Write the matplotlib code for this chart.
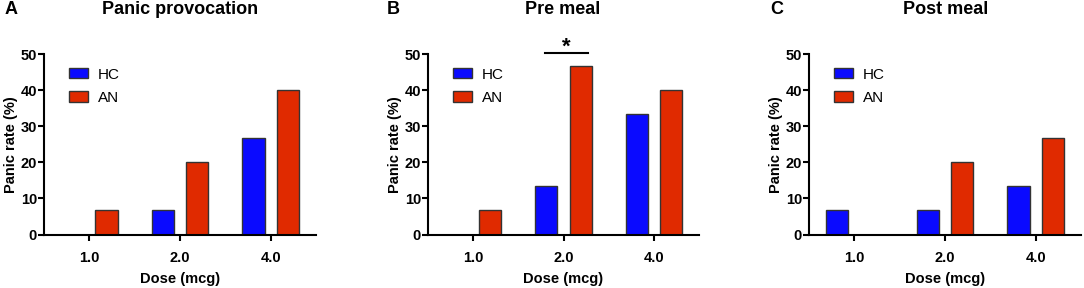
import matplotlib
matplotlib.use("Agg")
import matplotlib.pyplot as plt
import numpy as np

plt.rcParams['font.family'] = ['Liberation Sans', 'DejaVu Sans']

doses = ["1.0", "2.0", "4.0"]
groups = ["HC", "AN"]
titles = ["Panic provocation", "Pre meal", "Post meal"]
letters = ["A", "B", "C"]
hc_vals = [[0, 6.67, 26.67], [0, 13.33, 33.33], [6.67, 6.67, 13.33]]
an_vals = [[6.67, 20.0, 40.0], [6.67, 46.67, 40.0], [0, 20.0, 26.67]]
yticks = [0, 10, 20, 30, 40, 50]

colors = {"HC": "#0a0aff", "AN": "#e02a00"}
edge = "#333333"

fig = plt.figure(figsize=(10.84, 2.88), dpi=100)
lefts = [44, 428, 809]
rights = [316, 699, 1081]
letter_x = [5, 387, 770]
title_cx = [180, 563, 946]
W, H = 1084, 288
bottom = 1 - 234.5 / H
top = 1 - 54 / H

for i in range(3):
    ax = fig.add_axes([lefts[i] / W, bottom, (rights[i] - lefts[i]) / W, top - bottom])
    x = np.arange(len(doses))
    bw = 0.245
    off = 0.19
    ax.bar(x - off, hc_vals[i], width=bw, color=colors["HC"], edgecolor=edge, linewidth=1.0, label="HC")
    ax.bar(x + off, an_vals[i], width=bw, color=colors["AN"], edgecolor=edge, linewidth=1.0, label="AN")
    ax.set_xlim(-0.5, 2.5)
    ax.set_ylim(0, 50)
    ax.set_yticks(yticks)
    ax.set_xticks(x)
    ax.set_xticklabels(doses, fontweight='bold', fontsize=10.5)
    for lab in ax.get_yticklabels():
        lab.set_fontweight('bold')
        lab.set_fontsize(10.5)
    for s in ["top", "right"]:
        ax.spines[s].set_visible(False)
    for s in ["left", "bottom"]:
        ax.spines[s].set_linewidth(1.5)
    ax.tick_params(axis='both', width=1.5, length=4, pad=1)
    ax.tick_params(axis='x', pad=8)
    ax.set_ylabel("Panic rate (%)", fontweight='bold', fontsize=10.5, labelpad=1.5)
    ax.set_xlabel("Dose (mcg)", fontweight='bold', fontsize=10.5, labelpad=5)
    ax.legend(loc='upper left', bbox_to_anchor=(0.04, 1.0), frameon=False,
              fontsize=11, handlelength=1.3, handleheight=0.65, labelspacing=0.6,
              handletextpad=0.6)
    fig.text(title_cx[i] / W, 1 - 9 / H, titles[i], ha='center', va='center', fontweight='bold', fontsize=13)
    fig.text(letter_x[i] / W, 1 - 9 / H, letters[i], ha='left', va='center', fontweight='bold', fontsize=13)
    if i == 1:
        ax.plot([1 - 0.2, 1 + 0.27], [50.2, 50.2], color='black', lw=1.5, clip_on=False)
        ax.text(1 + 0.03, 52.0, "*", ha='center', va='center', fontsize=16, fontweight='bold')

fig.savefig("out.png", dpi=100)
